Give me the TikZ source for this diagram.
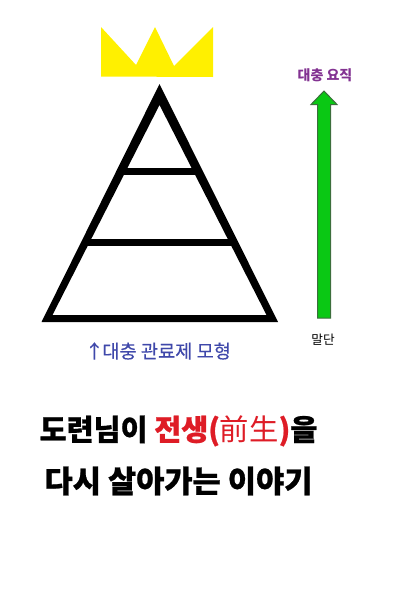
\documentclass[tikz,border=0pt]{standalone}
\usepackage{fontspec}
\usepackage{color}
\setmainfont{Noto Sans CJK KR}
\newfontfamily\heavyfont[BoldFeatures={FakeBold=0.8}]{Noto Sans CJK KR}
\newfontfamily\mediumfont[FakeBold=0.35]{Noto Sans CJK KR}
\tikzset{every picture/.style={line width=0.75pt}}
\tikzset{
  pyramidline/.style={color=black,line width=5.25pt},
  title/.style={anchor=center,inner sep=0.75pt},
}
\begin{document}
\begin{tikzpicture}[x=0.75pt,y=0.75pt,yscale=-1,xscale=1]
	\useasboundingbox (0,0) rectangle (400,600);
	
	%Shape: Crown
	\fill [color={rgb, 255:red, 255; green, 240; blue, 0 }] (101,27) -- (136,65) -- (155,27) -- (174,66) -- (213,27) -- (213,77) -- (101,76.5) -- cycle ;
	%Shape: Pyramid
	\fill [color=black, even odd rule] (159.5,84) -- (278,322) -- (41.5,322) -- cycle (159.5,105) -- (266.5,315) -- (52.5,315) -- cycle ;
	%Straight Lines
	\draw [pyramidline] (120,171.5) -- (199,171.5) ;
	%Straight Lines
	\draw [pyramidline] (86,242.5) -- (233,242.5) ;
	%Shape: Up Arrow
	\draw [color={rgb, 255:red, 60; green, 110; blue, 60 }, fill={rgb, 255:red, 10; green, 200; blue, 20 }] (324,91) -- (337,104.5) -- (330.5,104.5) -- (330.5,318) -- (317.5,318) -- (317.5,104.5) -- (311,104.5) -- cycle ;
	
	% Text Node
	\node (top) at (325,75) [inner sep=0.75pt, color={rgb, 255:red, 130; green, 50; blue, 145 }, font=\bfseries\fontsize{10.5}{12}\selectfont] {대충 요직};
	% Text Node
	\node (bottom) at (323,340) [inner sep=0.75pt, font=\fontsize{9.5}{11}\selectfont] {말단};
	% Text Node
	\node (caption) at (158,351) [inner sep=0.75pt, color={rgb, 255:red, 63; green, 72; blue, 170 }, font=\mediumfont\fontsize{14}{17}\selectfont] {↑\kern-1pt 대충 관료제 모형};
	% Text Node
	\node (line one) at (178.5,431) [title, font=\heavyfont\bfseries\fontsize{22}{26}\selectfont] {도련님이 \textcolor[rgb]{0.87,0.11,0.15}{전생(\textmd{前生})}을};
	% Text Node
	\node (line two) at (178.5,481) [title, font=\heavyfont\bfseries\fontsize{23}{27}\selectfont] {다시 살아가는 이야기};
\end{tikzpicture}
\end{document}
